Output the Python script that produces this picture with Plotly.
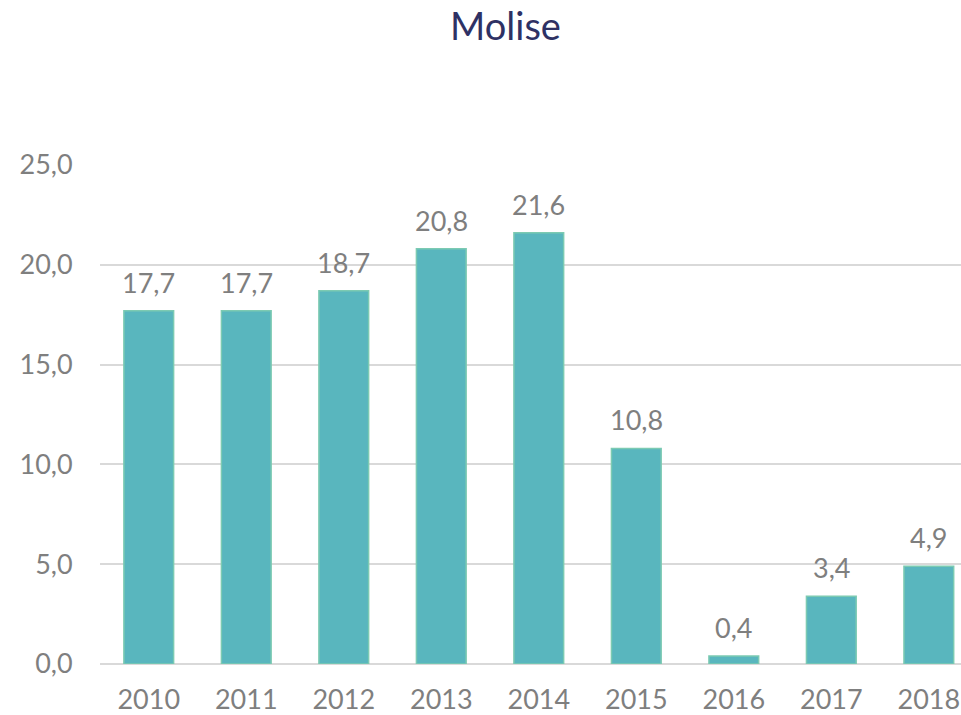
import plotly.graph_objects as go

years = ["2010", "2011", "2012", "2013", "2014", "2015", "2016", "2017", "2018"]
values = [17.7, 17.7, 18.7, 20.8, 21.6, 10.8, 0.4, 3.4, 4.9]

BAR_COLOR = "#59b6be"
BAR_EDGE = "#7ccab2"
GREY = "#7f7f7f"
GRID = "#d9d9d9"
FONT = "Lato, 'Open Sans', sans-serif"

fig = go.Figure(go.Bar(
    x=years, y=values,
    marker=dict(color=BAR_COLOR, line=dict(color=BAR_EDGE, width=1.5)),
    width=0.51, showlegend=False, hoverinfo="skip",
))

# value labels sit a little above each bar (x by category index)
for i, v in enumerate(values):
    fig.add_annotation(
        x=i, y=v, xref="x", yref="y",
        text=f"{v:.1f}".replace(".", ","),
        showarrow=False, yanchor="bottom", yshift=10,
        font=dict(size=27, color=GREY, family=FONT),
    )

fig.update_layout(
    width=961, height=715,
    margin=dict(l=100, r=0, t=165, b=51),
    paper_bgcolor="white", plot_bgcolor="white",
    separators=",.",
    font=dict(family=FONT, color=GREY, size=27),
    title=dict(text="Molise", x=0.526, xanchor="center",
               y=1 - 27 / 715, yanchor="middle", yref="container",
               font=dict(size=38, color="#2e3164", family=FONT)),
)
fig.update_xaxes(
    type="category", range=[-0.5, 8.33], automargin=False,
    showgrid=False, showline=False,
    ticks="outside", ticklen=12, tickcolor="rgba(0,0,0,0)",
    tickfont=dict(size=27, color=GREY),
)
fig.update_yaxes(
    range=[0, 25], dtick=5, tickformat=".1f", automargin=False,
    showgrid=True, gridcolor=GRID, gridwidth=1.5,
    zeroline=True, zerolinecolor=GRID, zerolinewidth=2,
    ticks="outside", ticklen=21, tickcolor="rgba(0,0,0,0)",
    tickfont=dict(size=27, color=GREY),
)

# drop the page's default body margin so the figure fills the window
fig.write_html("out.html",
               config={"displayModeBar": False},
               post_script="document.body.style.margin='0';"
                           "document.body.style.overflow='hidden';")
